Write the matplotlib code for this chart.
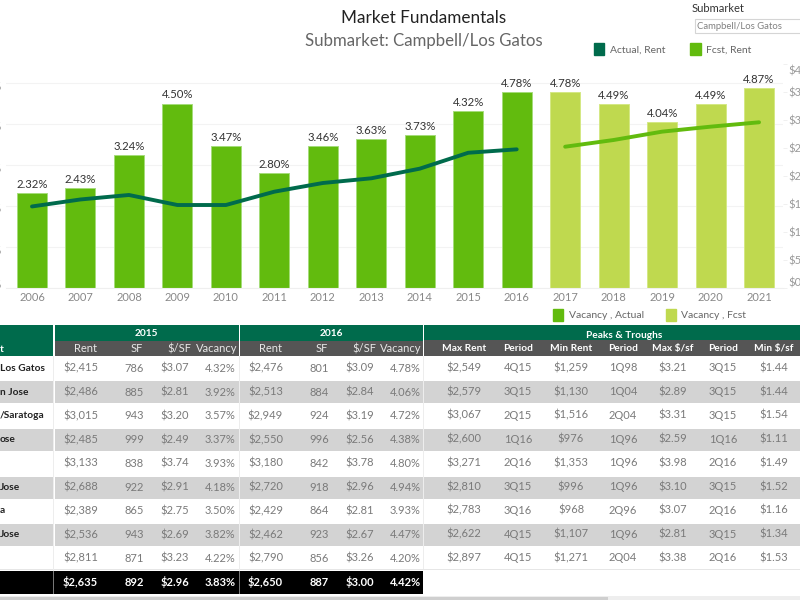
import matplotlib
matplotlib.use("Agg")
import matplotlib.pyplot as plt
from matplotlib.patches import Patch, Rectangle
from matplotlib.ticker import FuncFormatter
from matplotlib.transforms import ScaledTranslation

plt.rcParams['font.family'] = ['Lato', 'DejaVu Sans']

# ---- chart data ----
years_actual = [2006, 2007, 2008, 2009, 2010, 2011, 2012, 2013, 2014, 2015, 2016]
vacancy_actual = [2.32, 2.43, 3.24, 4.50, 3.47, 2.80, 3.46, 3.63, 3.73, 4.32, 4.78]
rent_actual = [1456, 1581, 1661, 1482, 1482, 1720, 1875, 1959, 2131, 2415, 2476]
years_fcst = [2017, 2018, 2019, 2020, 2021]
vacancy_fcst = [4.78, 4.49, 4.04, 4.49, 4.87]
rent_fcst = [2523, 2643, 2792, 2881, 2959]
vacancy_ticks = [0, 1, 2, 3, 4, 5]
rent_ticks = [0, 500, 1000, 1500, 2000, 2500, 3000, 3500, 4000]

# ---- table data ----
row_labels = ["Los Gatos", "n Jose", "/Saratoga", "ose", "", "Jose", "a", "Jose", ""]
header_stub = "t"
group_2015 = "2015"
group_2016 = "2016"
group_peaks = "Peaks & Troughs"
year_cols = ["Rent", "SF", "$/SF", "Vacancy"]
peak_cols = ["Max Rent", "Period", "Min Rent", "Period", "Max $/sf", "Period", "Min $/sf"]
rows_2015 = [
    ["$2,415", "786", "$3.07", "4.32%"],
    ["$2,486", "885", "$2.81", "3.92%"],
    ["$3,015", "943", "$3.20", "3.57%"],
    ["$2,485", "999", "$2.49", "3.37%"],
    ["$3,133", "838", "$3.74", "3.93%"],
    ["$2,688", "922", "$2.91", "4.18%"],
    ["$2,389", "865", "$2.75", "3.50%"],
    ["$2,536", "943", "$2.69", "3.82%"],
    ["$2,811", "871", "$3.23", "4.22%"],
]
rows_2016 = [
    ["$2,476", "801", "$3.09", "4.78%"],
    ["$2,513", "884", "$2.84", "4.06%"],
    ["$2,949", "924", "$3.19", "4.72%"],
    ["$2,550", "996", "$2.56", "4.38%"],
    ["$3,180", "842", "$3.78", "4.80%"],
    ["$2,720", "918", "$2.96", "4.94%"],
    ["$2,429", "864", "$2.81", "3.93%"],
    ["$2,462", "923", "$2.67", "4.47%"],
    ["$2,790", "856", "$3.26", "4.20%"],
]
rows_peaks = [
    ["$2,549", "4Q15", "$1,259", "1Q98", "$3.21", "3Q15", "$1.44"],
    ["$2,579", "3Q15", "$1,130", "1Q04", "$2.89", "3Q15", "$1.44"],
    ["$3,067", "2Q15", "$1,516", "2Q04", "$3.31", "3Q15", "$1.54"],
    ["$2,600", "1Q16", "$976", "1Q96", "$2.59", "1Q16", "$1.11"],
    ["$3,271", "2Q16", "$1,353", "1Q96", "$3.98", "2Q16", "$1.49"],
    ["$2,810", "3Q15", "$996", "1Q96", "$3.10", "3Q15", "$1.52"],
    ["$2,783", "3Q16", "$968", "2Q96", "$3.07", "2Q16", "$1.16"],
    ["$2,622", "4Q15", "$1,107", "1Q96", "$2.81", "3Q15", "$1.34"],
    ["$2,897", "4Q15", "$1,271", "2Q04", "$3.38", "2Q16", "$1.53"],
]
total_2015 = ["$2,635", "892", "$2.96", "3.83%"]
total_2016 = ["$2,650", "887", "$3.00", "4.42%"]

C_ACT = "#62BB0E"
C_FC = "#BFD94F"
C_DARK = "#006B4C"
C_HDR = "#555555"
C_BAND = "#D3D3D3"
C_TXT = "#7A7A7A"
W, H = 800, 600
FS = 8.0
FS_BOLD = 7.3
FS_LEG = 7.5

fig = plt.figure(figsize=(8, 6), dpi=100, facecolor="white")

def fx(px):
    return px / W
def fy(py):
    return 1 - py / H

# ---- overlay (table, titles) in pixel coordinates ----
ov = fig.add_axes([0, 0, 1, 1], zorder=0)
ov.set_xlim(0, W)
ov.set_ylim(H, 0)
ov.axis("off")

def rect(x0, y0, x1, y1, color):
    ov.add_patch(Rectangle((x0, y0), x1 - x0, y1 - y0, facecolor=color, edgecolor="none"))

def put(x, y, s, color=C_TXT, size=FS, weight="normal", ha="center"):
    ov.text(x, y, s, color=color, fontsize=size, fontweight=weight, ha=ha, va="center")

ROW0, ROWH = 356.6, 23.87
rect(0, 325, 53, 356, C_DARK)
rect(54.5, 325, 238.5, 341, C_DARK)
rect(240, 325, 423, 341, C_DARK)
rect(424, 325, 800, 340, C_DARK)
rect(54.5, 341, 238.5, 356, C_HDR)
rect(240, 341, 423, 356, C_HDR)
rect(424, 340, 800, 355.5, C_HDR)

for i in range(len(row_labels)):
    y0 = ROW0 + i * ROWH
    if i % 2 == 1:
        rect(0, y0 + 0.6, 53, y0 + 22.8, C_BAND)
        rect(54.5, y0 + 0.6, 238.5, y0 + 22.8, C_BAND)
        rect(240, y0 + 0.6, 423, y0 + 22.8, C_BAND)
        rect(424, y0 + 0.6, 800, y0 + 22.8, C_BAND)
rect(0, 568.5, 800, 569.5, "#E6E6E6")
rect(238.6, 356, 239.8, 571, "#EDEDED")
rect(53.2, 356, 54.3, 571, "#EDEDED")
rect(423, 356, 424, 569, "#EDEDED")
rect(0, 571, 423, 594, "black")
rect(53.2, 571, 54.3, 594, "#777777")
rect(238.6, 571, 239.8, 594, "#777777")
rect(0, 596, 800, 600, "#EEEEEE")
rect(0, 597, 608, 600, "#CFCFCF")

hdr_x_a = [85.5, 137, 179, 217]
hdr_x_b = [271, 322, 364.5, 401]
val_x_a = [80.5, 134, 175, 220]
val_x_b = [265.5, 319, 360, 405]
peak_x = [464, 518, 571, 623, 673, 723, 774]

put(146, 333.5, group_2015, "white", FS_BOLD, "bold")
put(331, 333.5, group_2016, "white", FS_BOLD, "bold")
put(624, 335, group_peaks, "white", FS_BOLD, "bold")
put(0, 349, header_stub, "white", FS_BOLD, "bold", "left")
for x, s in zip(hdr_x_a, year_cols):
    put(x, 349, s, "#E8E8E8")
for x, s in zip(hdr_x_b, year_cols):
    put(x, 349, s, "#E8E8E8")
for x, s in zip(peak_x, peak_cols):
    put(x, 348.5, s, "white", FS_BOLD, "bold")

for i in range(len(row_labels)):
    y = 368.3 + i * 23.75
    if row_labels[i]:
        put(0, y, row_labels[i], "#222222", FS_BOLD, "bold", "left")
    for x, s in zip(val_x_a, rows_2015[i]):
        put(x, y, s)
    for x, s in zip(val_x_b, rows_2016[i]):
        put(x, y, s)
    for x, s in zip(peak_x, rows_peaks[i]):
        put(x, y - 0.5, s)
for x, s in zip(val_x_a, total_2015):
    put(x, 582, s, "white", FS, "bold")
for x, s in zip(val_x_b, total_2016):
    put(x, 582, s, "white", FS, "bold")

# titles and filter
put(424, 18, "Market Fundamentals", "#222222", 12.3)
put(424, 41, "Submarket: Campbell/Los Gatos", "#666666", 12.1)
put(692, 8.5, "Submarket", "#333333", 8, ha="left")
ov.add_patch(Rectangle((694.5, 19), 110, 14, facecolor="white", edgecolor="#D5D5D5", linewidth=0.8))
put(697, 26.5, "Campbell/Los Gatos", "#808080", 6.8, ha="left")

# ---- chart ----
L, R, T, B = 6, 783, 64, 288
ax = fig.add_axes([fx(L), fy(B), (R - L) / W, (B - T) / H], zorder=1)
ax.patch.set_alpha(0)
ax.set_xlim(2006 - 26 / 48.47, 2006 + (R - 32) / 48.47)
ax.set_ylim(0, (B - T) / 41.0)
bw = 30 / 48.47
bars_a = ax.bar(years_actual, vacancy_actual, width=bw, color=C_ACT, edgecolor="#A5DC7A", linewidth=0.7, zorder=2)
bars_f = ax.bar(years_fcst, vacancy_fcst, width=bw, color=C_FC, edgecolor="#D4E884", linewidth=0.7, zorder=2)
for xs, vs in ((years_actual, vacancy_actual), (years_fcst, vacancy_fcst)):
    for x, v in zip(xs, vs):
        ax.annotate(f"{v:.2f}%", (x, v), xytext=(0, 3), textcoords="offset pixels", ha="center",
                    va="bottom", fontsize=8.2, color="#333333", zorder=5, annotation_clip=False)
ax.set_yticks(vacancy_ticks)
ax.yaxis.set_major_formatter(FuncFormatter(lambda v, _: f"{v:.0f}%"))
ax.set_xticks(years_actual + years_fcst)
ax.grid(axis="y", color="#F3F3F3", linewidth=0.8, zorder=0)
ax.set_axisbelow(True)
ax.tick_params(axis="y", length=0, pad=3, labelsize=FS, labelcolor="#999999")
ax.tick_params(axis="x", length=0, pad=3, labelsize=FS, labelcolor="#888888")
for s in ("top", "left", "right"):
    ax.spines[s].set_visible(False)
ax.spines["bottom"].set_color("#EFEFEF")

ax2 = ax.twinx()
ax2.set_zorder(2)
ax2.patch.set_alpha(0)
ax2.set_ylim(0, (B - T) * 500 / 28.0)
ax2.plot(years_actual, rent_actual, color=C_DARK, linewidth=2.8, solid_capstyle="round", zorder=4)
ax2.plot(years_fcst, rent_fcst, color=C_ACT, linewidth=2.8, solid_capstyle="round", zorder=4)
ax2.set_yticks(rent_ticks)
ax2.yaxis.set_major_formatter(FuncFormatter(lambda v, _: f"${v:,.0f}"))
ax2.tick_params(axis="y", length=3, width=0.6, color="#EEEEEE", pad=1, labelsize=FS, labelcolor="#999999")
for s in ("top", "left", "right", "bottom"):
    ax2.spines[s].set_visible(False)

# Keep edge labels inside the plot band, as the original does
def nudge(label, px):
    label.set_transform(label.get_transform() + ScaledTranslation(0, px / 100, fig.dpi_scale_trans))
nudge(ax.yaxis.get_major_ticks()[0].label1, 5)
for t in ax.yaxis.get_major_ticks()[1:]:
    nudge(t.label1, -2)
nudge(ax2.yaxis.get_major_ticks()[0].label2, 6)
nudge(ax2.yaxis.get_major_ticks()[-1].label2, -6)

# ---- legends ----
def legend(handles, x, y, spacing):
    lg = fig.legend(handles=handles, loc="upper left", bbox_to_anchor=(fx(x), fy(y)), ncol=2, frameon=False,
                    fontsize=FS_LEG, handlelength=1.0, handleheight=1.4, handletextpad=0.5,
                    columnspacing=spacing, borderpad=0, borderaxespad=0, labelcolor="#666666")
    return lg
legend([Patch(color=C_DARK, label="Actual, Rent"), Patch(color=C_ACT, label="Fcst, Rent")], 594, 43, 2.4)
legend([Patch(color=C_ACT, label="Vacancy , Actual"), Patch(color=C_FC, label="Vacancy , Fcst")], 553, 309, 2.1)

fig.savefig("out.png", dpi=100)
